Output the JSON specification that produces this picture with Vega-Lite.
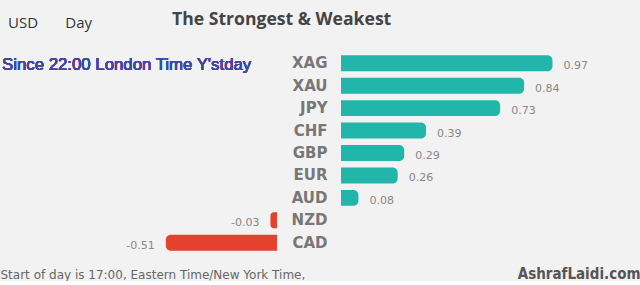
{
  "$schema": "https://vega.github.io/schema/vega-lite/v6.json",
  "background": "#f2f2f2",
  "padding": {"top": 10, "left": 0, "right": 0, "bottom": 0},
  "spacing": -155,
  "config": {
    "view": {"stroke": null},
    "axis": {"grid": false},
    "locale": {"number": {"decimal": ".", "thousands": ",", "grouping": [3], "currency": ["$", ""], "minus": "-"}}
  },
  "data": {
    "values": [
      {"currency": "XAG", "value": 0.97},
      {"currency": "XAU", "value": 0.84},
      {"currency": "JPY", "value": 0.73},
      {"currency": "CHF", "value": 0.39},
      {"currency": "GBP", "value": 0.29},
      {"currency": "EUR", "value": 0.26},
      {"currency": "AUD", "value": 0.08},
      {"currency": "NZD", "value": -0.03},
      {"currency": "CAD", "value": -0.51}
    ]
  },
  "hconcat": [
    {
      "width": 277,
      "height": 202,
      "title": {
        "text": "USD\u00a0\u00a0\u00a0\u00a0\u00a0\u00a0\u00a0Day",
        "anchor": "start",
        "dx": 8,
        "font": "Open Sans",
        "fontSize": 15,
        "fontWeight": "normal",
        "color": "#333333",
        "baseline": "alphabetic",
        "offset": 9.5
      },
      "layer": [
        {
          "transform": [{"filter": "datum.value < 0"}],
          "mark": {"type": "bar", "color": "#e5412f", "cornerRadiusTopLeft": 5, "cornerRadiusBottomLeft": 5},
          "encoding": {
            "y": {
              "field": "currency", "type": "nominal", "sort": ["XAG","XAU","JPY","CHF","GBP","EUR","AUD","NZD","CAD"],
              "scale": {"domain": ["XAG","XAU","JPY","CHF","GBP","EUR","AUD","NZD","CAD"], "paddingInner": 0.29, "paddingOuter": 0.145},
              "axis": {
                "orient": "right", "title": null, "ticks": false, "domain": false,
                "labelAlign": "right", "labelPadding": 50, "labelFont": "DejaVu Sans",
                "labelFontWeight": "bold", "labelFontSize": 15, "labelColor": "#777777"
              }
            },
            "x": {
              "field": "value", "type": "quantitative",
              "scale": {"domain": [-1.2706, 0], "nice": false, "zero": false},
              "axis": {
                "labels": false, "ticks": false, "domain": false, "grid": false,
                "title": "Start of day is 17:00, Eastern Time/New York Time,",
                "titleAnchor": "start", "titleFont": "DejaVu Sans", "titleFontSize": 12,
                "titleFontWeight": "normal", "titleColor": "#666666",
                "titleBaseline": "alphabetic", "titlePadding": 24
              }
            },
            "x2": {"datum": 0}
          }
        },
        {
          "transform": [{"filter": "datum.value < 0"}],
          "mark": {"type": "text", "align": "right", "baseline": "middle", "dx": -11, "dy": 3, "font": "DejaVu Sans", "fontSize": 11, "color": "#888888"},
          "encoding": {
            "y": {"field": "currency", "type": "nominal"},
            "x": {"field": "value", "type": "quantitative"},
            "text": {"field": "value", "type": "quantitative", "format": ".2f"}
          }
        },
        {
          "mark": {"type": "text", "text": "Since 22:00 London Time Y'stday", "align": "left", "baseline": "middle", "dx": 2, "dy": 2, "font": "Liberation Sans", "fontSize": 16.8, "color": "#46469e"},
          "encoding": {
            "y": {"datum": "XAG", "type": "nominal"},
            "x": {"datum": -1.2706, "type": "quantitative"}
          }
        }
      ]
    },
    {
      "width": 299,
      "height": 202,
      "title": {
        "text": "The Strongest & Weakest",
        "anchor": "start",
        "dx": -169,
        "font": "Open Sans",
        "fontSize": 17.6,
        "fontWeight": "bold",
        "color": "#444444",
        "baseline": "alphabetic",
        "offset": 9.5
      },
      "layer": [
        {
          "transform": [{"filter": "datum.value > 0"}],
          "mark": {"type": "bar", "color": "#22b5aa", "cornerRadiusTopRight": 5, "cornerRadiusBottomRight": 5},
          "encoding": {
            "y": {
              "field": "currency", "type": "nominal", "sort": ["XAG","XAU","JPY","CHF","GBP","EUR","AUD","NZD","CAD"],
              "scale": {"domain": ["XAG","XAU","JPY","CHF","GBP","EUR","AUD","NZD","CAD"], "paddingInner": 0.29, "paddingOuter": 0.145},
              "axis": null
            },
            "x": {
              "field": "value", "type": "quantitative",
              "scale": {"domain": [0, 1.3716], "nice": false, "zero": false},
              "axis": {
                "labels": false, "ticks": false, "domain": false, "grid": false,
                "title": "AshrafLaidi.com",
                "titleAnchor": "end", "titleFont": "DejaVu Sans Condensed", "titleFontSize": 15,
                "titleFontWeight": "bold", "titleColor": "#555555",
                "titleBaseline": "alphabetic", "titlePadding": 24
              }
            },
            "x2": {"datum": 0}
          }
        },
        {
          "transform": [{"filter": "datum.value > 0"}],
          "mark": {"type": "text", "align": "left", "baseline": "middle", "dx": 11, "dy": 3, "font": "DejaVu Sans", "fontSize": 11, "color": "#888888"},
          "encoding": {
            "y": {"field": "currency", "type": "nominal"},
            "x": {"field": "value", "type": "quantitative"},
            "text": {"field": "value", "type": "quantitative", "format": ".2f"}
          }
        }
      ]
    }
  ]
}
